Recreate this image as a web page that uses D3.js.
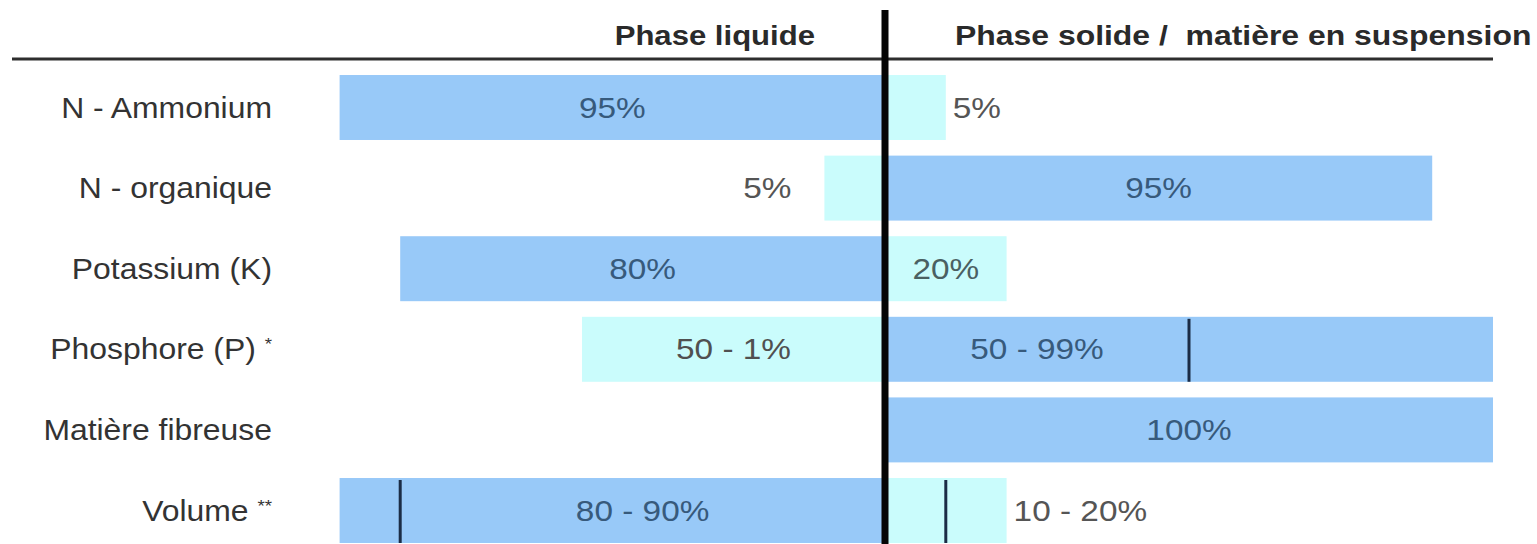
<!DOCTYPE html>
<html>
<head>
<meta charset="utf-8">
<script src="https://cdn.jsdelivr.net/npm/d3@7"></script>
<style>
  html, body { margin: 0; padding: 0; background: #fff; }
  svg { display: block; }
</style>
</head>
<body>
<svg id="chart" width="1537" height="544"></svg>
<script>
// ---- data ----
const categories = ["N - Ammonium", "N - organique", "Potassium (K)", "Phosphore (P)", "Matière fibreuse", "Volume"];
const notes = ["", "", "", "*", "", "**"];
// drawn bar extents (percent units) on each side of the central divider
const liquidExtent = [90, 10, 80, 50, 0, 90];
const solidExtent  = [10, 90, 20, 100, 100, 20];
// range markers inside bars
const liquidMarker = [null, null, null, null, null, 80];
const solidMarker  = [null, null, null, 50, null, 10];
// bar labels
const liquidLabels = ["95%", "5%", "80%", "50 - 1%", "", "80 - 90%"];
const solidLabels  = ["5%", "95%", "20%", "50 - 99%", "100%", "10 - 20%"];
const liquidPlace  = ["in", "out", "in", "in", "", "in"];
const solidPlace   = ["out", "in", "in", "in", "in", "out"];
// shade of each bar
const liquidShade = ["dark", "light", "dark", "light", "", "dark"];
const solidShade  = ["light", "dark", "light", "dark", "dark", "light"];
const headers = ["Phase liquide", "Phase solide /  matière en suspension"];

// ---- layout ----
const svg = d3.select("#chart");
const cx = 885;
const xR = d3.scaleLinear().domain([0, 100]).range([cx, cx + 608]);
const xL = d3.scaleLinear().domain([0, 100]).range([cx, cx - 606]);
const y = d3.scaleBand().domain(categories).range([67.2, 550.8]).paddingInner(0.194).paddingOuter(0.097);

const colors = { dark: "#98c9f8", light: "#cafcfc" };
const font = "'Liberation Sans', Arial, Helvetica, sans-serif";

function stretchedText(g, x, yy, sx, anchor) {
  return g.append("text")
    .attr("transform", `translate(${x},${yy}) scale(${sx},1)`)
    .attr("text-anchor", anchor);
}

// bars
const rows = categories.map((c, i) => ({
  c, i,
  L: liquidExtent[i], R: solidExtent[i],
  Lm: liquidMarker[i], Rm: solidMarker[i],
  Ll: liquidLabels[i], Rl: solidLabels[i],
  Lp: liquidPlace[i], Rp: solidPlace[i],
  Ls: liquidShade[i], Rs: solidShade[i]
}));

const gBars = svg.append("g");
rows.forEach(r => {
  const top = y(r.c), h = y.bandwidth();
  if (r.L > 0) {
    gBars.append("rect")
      .attr("x", xL(r.L)).attr("y", top)
      .attr("width", xL(0) - xL(r.L)).attr("height", h)
      .attr("fill", colors[r.Ls]);
  }
  if (r.R > 0) {
    gBars.append("rect")
      .attr("x", xR(0)).attr("y", top)
      .attr("width", xR(r.R) - xR(0)).attr("height", h)
      .attr("fill", colors[r.Rs]);
  }
});

// markers
rows.forEach(r => {
  const top = y(r.c), h = y.bandwidth();
  if (r.Lm != null) {
    gBars.append("line").attr("x1", xL(r.Lm)).attr("x2", xL(r.Lm))
      .attr("y1", top + 2).attr("y2", top + h)
      .attr("stroke", "#1b2c46").attr("stroke-width", 3);
  }
  if (r.Rm != null) {
    gBars.append("line").attr("x1", xR(r.Rm)).attr("x2", xR(r.Rm))
      .attr("y1", top + 2).attr("y2", top + h)
      .attr("stroke", "#1b2c46").attr("stroke-width", 3);
  }
});

// bar labels
const gLab = svg.append("g").attr("font-family", font).attr("font-size", 29);
const sxLab = 1.15;
rows.forEach(r => {
  const cy = y(r.c) + y.bandwidth() / 2 + 10;
  if (r.Ll) {
    const edge = r.Lm != null ? r.Lm : r.L;
    if (r.Lp === "in") {
      stretchedText(gLab, (xL(0) + xL(edge)) / 2, cy, sxLab, "middle")
        .attr("fill", r.Ls === "dark" ? "#375a7c" : "#505050").text(r.Ll);
    } else {
      stretchedText(gLab, xL(r.L) - 33, cy, sxLab, "end")
        .attr("fill", "#555").text(r.Ll);
    }
  }
  if (r.Rl) {
    const edge = r.Rm != null ? r.Rm : r.R;
    if (r.Rp === "in") {
      stretchedText(gLab, (xR(0) + xR(edge)) / 2, cy, sxLab, "middle")
        .attr("fill", r.Rs === "dark" ? "#375a7c" : "#4a6062").text(r.Rl);
    } else {
      stretchedText(gLab, xR(r.R) + 7, cy, sxLab, "start")
        .attr("fill", "#555").text(r.Rl);
    }
  }
});

// category labels
const gCat = svg.append("g").attr("font-family", font).attr("font-size", 29).attr("fill", "#333");
rows.forEach((r, i) => {
  const cy = y(r.c) + y.bandwidth() / 2 + 10;
  const t = stretchedText(gCat, 272, cy, 1.1, "end");
  t.append("tspan").text(r.c + (notes[i] ? " " : ""));
  if (notes[i]) {
    t.append("tspan").attr("font-size", 17).attr("dy", -9).text(notes[i]);
  }
});

// header rule and divider
svg.append("line").attr("x1", 12).attr("x2", 1493).attr("y1", 59).attr("y2", 59)
  .attr("stroke", "#2e2e2e").attr("stroke-width", 3);
svg.append("line").attr("x1", cx).attr("x2", cx).attr("y1", 10).attr("y2", 544)
  .attr("stroke", "#050505").attr("stroke-width", 7);

// headers
const gHead = svg.append("g").attr("font-family", font).attr("font-size", 28)
  .attr("font-weight", "bold").attr("fill", "#2a2a2a");
stretchedText(gHead, 815, 45, 1.11, "end").text(headers[0]);
stretchedText(gHead, 955, 45, 1.14, "start").style("white-space", "pre").text(headers[1]);
</script>
</body>
</html>
